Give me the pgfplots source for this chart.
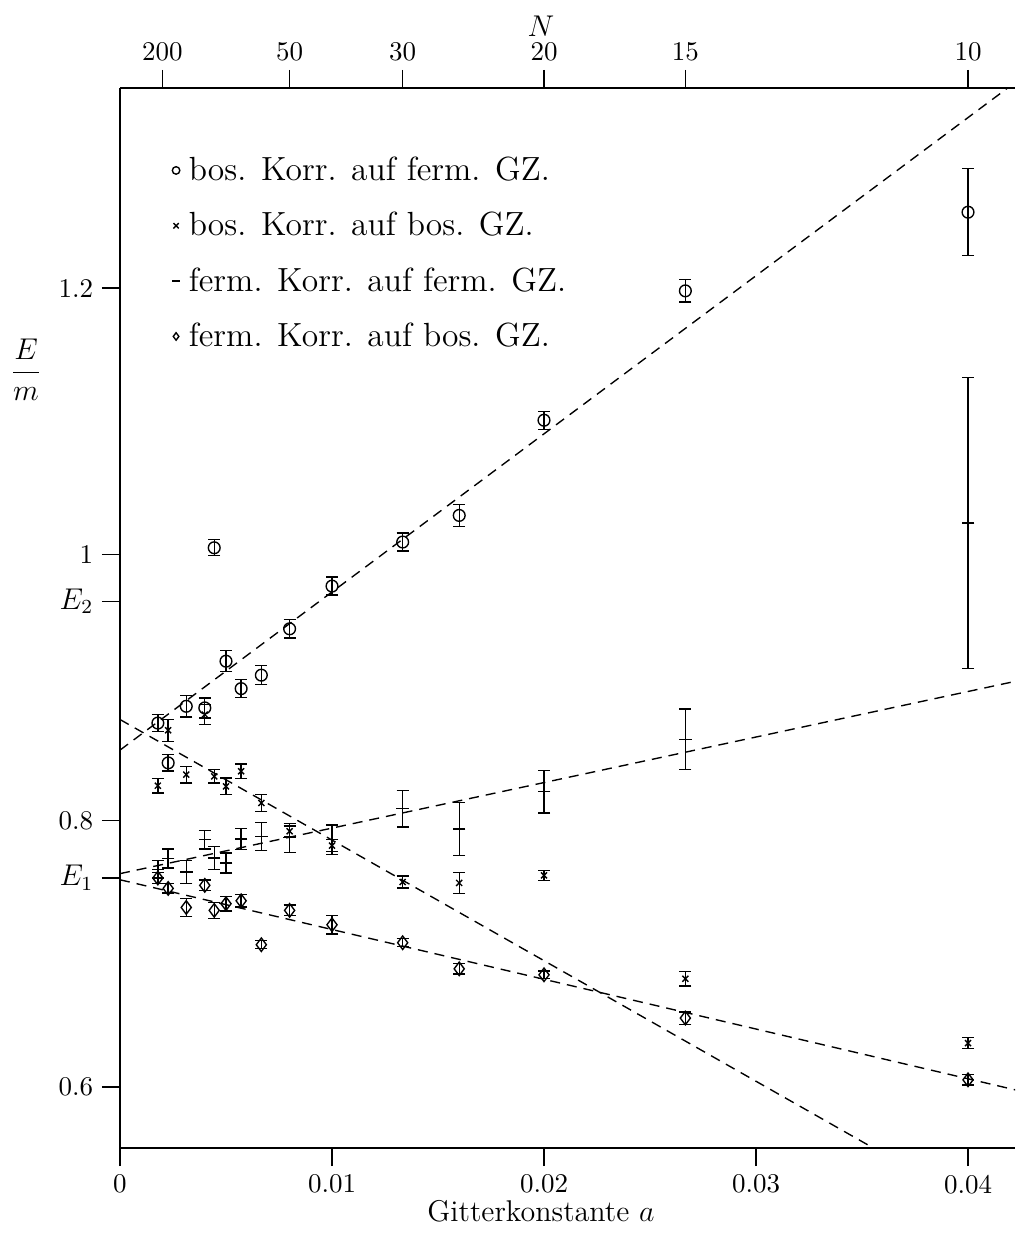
\documentclass[border=0pt]{standalone}
\usepackage{pgfplots}
\usepackage{pgfplotstable}
\pgfplotsset{compat=1.18}

\pgfplotstableread{
a y e
0.0017857 0.8733 0.0063
0.0022727 0.8434 0.0062
0.003125 0.8859 0.0080
0.004 0.8847 0.0075
0.0044444 1.0050 0.0060
0.005 0.9198 0.0079
0.0057143 0.8992 0.0068
0.0066667 0.9093 0.0071
0.008 0.9441 0.0068
0.01 0.9762 0.0068
0.0133333 1.0093 0.0068
0.016 1.0293 0.0083
0.02 1.1008 0.0068
0.0266667 1.1980 0.0085
0.04 1.2571 0.0327
}\bosferm

\pgfplotstableread{
a y e
0.0017857 0.8263 0.0056
0.0022727 0.8679 0.0082
0.003125 0.8346 0.0063
0.004 0.8797 0.0075
0.0044444 0.8333 0.0050
0.005 0.8258 0.0063
0.0057143 0.8371 0.0054
0.0066667 0.8133 0.0063
0.008 0.7920 0.0040
0.01 0.7812 0.0045
0.0133333 0.7539 0.0045
0.016 0.7532 0.0078
0.02 0.7589 0.0038
0.0266667 0.6812 0.0054
0.04 0.6329 0.0040
}\bosbos

\pgfplotstableread{
a y e
0.0017857 0.7635 0.0065
0.0022727 0.7716 0.0071
0.003125 0.7614 0.0088
0.004 0.7857 0.0070
0.0044444 0.7720 0.0088
0.005 0.7682 0.0075
0.0057143 0.7862 0.0079
0.0066667 0.7880 0.0104
0.008 0.7872 0.0109
0.01 0.7857 0.0110
0.0133333 0.8090 0.0138
0.016 0.7936 0.0199
0.02 0.8218 0.0160
0.0266667 0.8611 0.0228
0.04 1.0235 0.1093
}\fermferm

\pgfplotstableread{
a y e
0.0017857 0.7569 0.0040
0.0022727 0.7491 0.0035
0.003125 0.7348 0.0067
0.004 0.7514 0.0040
0.0044444 0.7326 0.0060
0.005 0.7376 0.0054
0.0057143 0.7398 0.0046
0.0066667 0.7068 0.0030
0.008 0.7326 0.0040
0.01 0.7218 0.0068
0.0133333 0.7083 0.0030
0.016 0.6887 0.0040
0.02 0.6842 0.0030
0.0266667 0.6517 0.0047
0.04 0.6053 0.0038
}\fermbos

\pgfplotsset{
  common/.style={
    width=358pt, height=424pt, scale only axis,
    xmin=0, xmax=0.042217, ymin=0.5541, ymax=1.3504,
    scaled x ticks=false, scaled y ticks=false,
    tick align=outside, major tick length=7.2pt,
    every non boxed x axis/.style={},
    every non boxed y axis/.style={},
    axis line style={line width=0.6pt, black},
    tick style={line width=0.6pt, black},
    ticklabel style={font=\fontsize{10.8}{13}\selectfont},
  },
  eb/.style={only marks, black, line width=0.55pt,
    error bars/y dir=both, error bars/y explicit,
    error bars/error bar style={line width=0.55pt},
    error bars/error mark options={rotate=90, mark size=2.4pt, line width=0.55pt}},
  fit/.style={forget plot, black, line width=0.55pt, dash pattern=on 4pt off 2.8pt},
}

\begin{document}
\begin{tikzpicture}
\begin{axis}[common, name=ax,
  axis x line=box, axis y line=left,
  xtick pos=left, ytick pos=left,
  xtick={0,0.01,0.02,0.03,0.04},
  xticklabels={0,0.01,0.02,0.03,0.04},
  ytick={0.6,0.8,1,1.2},
  yticklabels={0.6,0.8,1,1.2},
  extra y ticks={0.7571,0.9647},
  extra y tick labels={{\large$E_1$},{\large$E_2$}},
  extra y tick style={tick align=outside, major tick length=7.2pt},
  xlabel={Gitterkonstante $a$},
  xlabel style={font=\large, at={(axis description cs:0.4704,-0.0592)}, anchor=center},
  ylabel={$\displaystyle\frac{E}{m}$},
  ylabel style={font=\large, rotate=-90, at={(axis description cs:-0.105,0.734)}, anchor=center},
  legend style={draw=none, fill=none, at={(axis description cs:0.045,0.945)}, anchor=north west,
    font=\fontsize{13.4}{16}\selectfont, row sep=7.2pt},
  legend cell align=left,
  legend image code/.code={\draw[#1, mark size=1.5pt] plot coordinates {(0.1cm,0cm)}; \path (0cm,0cm) (0.2cm,0cm);},
]
\addplot[eb, mark=o, mark size=2.35pt] table[x=a, y=y, y error=e] {\bosferm};
\addlegendentry{bos. Korr. auf ferm. GZ.}
\addplot[eb, mark=x, mark size=1.7pt] table[x=a, y=y, y error=e] {\bosbos};
\addlegendentry{bos. Korr. auf bos. GZ.}
\addplot[eb, mark=-, mark size=2.5pt] table[x=a, y=y, y error=e] {\fermferm};
\addlegendentry{ferm. Korr. auf ferm. GZ.}
\addplot[eb, mark=diamond, mark size=2.7pt] table[x=a, y=y, y error=e] {\fermbos};
\addlegendentry{ferm. Korr. auf bos. GZ.}

\addplot[fit] coordinates {(0,0.8530) (0.0423,1.3555)};
\addplot[fit] coordinates {(0,0.8760) (0.0423,0.4928)};
\addplot[fit] coordinates {(0,0.7602) (0.0423,0.9049)};
\addplot[fit] coordinates {(0,0.7556) (0.0423,0.5975)};
\end{axis}

\begin{axis}[common,
  axis x line*=top, axis y line=none,
  xtick={0.002,0.008,0.0133333,0.02,0.0266667,0.04},
  xticklabels={200,50,30,20,15,10},
  ytick=\empty,
  xlabel={$N$},
  xlabel style={font=\large, at={(axis description cs:0.4704,1.0585)}, anchor=center},
]
\end{axis}

\pgfresetboundingbox
\path[use as bounding box] ([xshift=-48pt,yshift=-34pt]ax.south west) rectangle ([yshift=35.2pt]ax.north east);
\end{tikzpicture}
\end{document}
